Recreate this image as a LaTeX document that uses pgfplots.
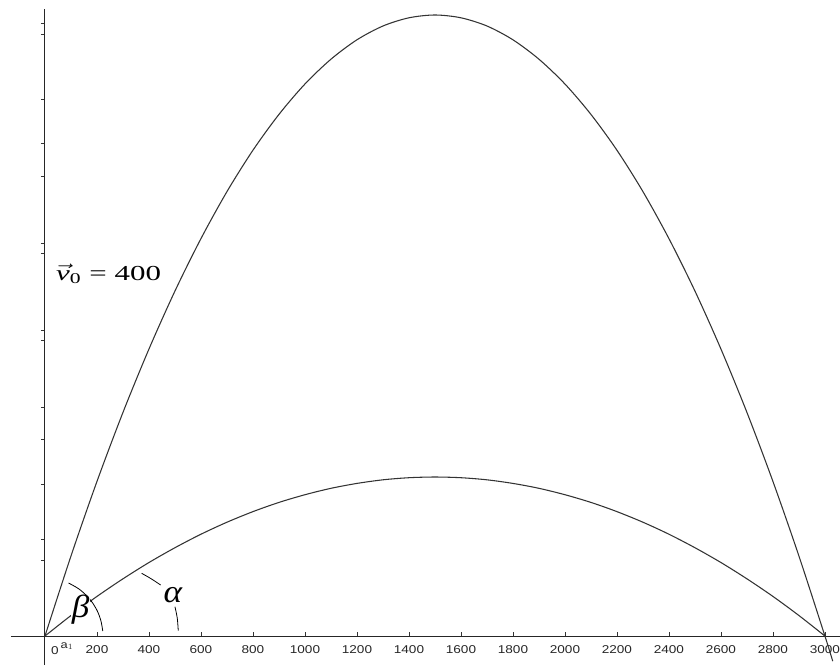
\documentclass[border=0pt]{standalone}
\usepackage{fontspec}
\setmainfont{Liberation Serif}
\setsansfont{Liberation Sans}
\newfontfamily\tickfont{Liberation Sans}[FakeStretch=1.2]
\usepackage{pgfplots}
\pgfplotsset{compat=1.18}
\begin{document}
\begin{tikzpicture}
\begin{axis}[
  scale only axis,
  width=621.75pt, height=492pt,
  xmin=-130.8, xmax=3058, ymin=-29, ymax=627,
  axis lines=middle,
  axis line style={-, line width=0.75pt, black!85},
  xtick={200,400,...,3000},
  ytick={76,97,152,197,229,296,306,383,393,460,493,537,602,613},
  yticklabels={},
  tick align=inside,
  major tick length=3pt,
  tick style={line width=0.6pt, black!80},
  y tick style={xshift=-3pt},
  hide obscured x ticks=false,
  /pgf/number format/assume math mode=true,
  /pgf/number format/1000 sep={},
  ticklabel style={font=\tickfont\fontsize{8.5}{10}\selectfont, text=black!85},
  xticklabel style={yshift=-4pt},
  clip=false,
]
\addplot[smooth, line width=0.8pt, black!80] coordinates {
(0,0) (100,80.0) (200,154.6) (300,223.6) (400,287.0) (500,345.0) (600,397.4)
(700,444.4) (800,485.8) (900,521.6) (1000,552.0) (1100,576.8) (1200,596.2)
(1300,610.0) (1400,618.2) (1500,621.0) (1600,618.2) (1700,610.0) (1800,596.2)
(1900,576.8) (2000,552.0) (2100,521.6) (2200,485.8) (2300,444.4) (2400,397.4)
(2500,345.0) (2600,287.0) (2700,223.6) (2800,154.6) (2900,80.0) (3000,0) (3030,-25.1)};
\addplot[smooth, line width=0.8pt, black!80] coordinates {
(0,0) (100,20.5) (200,39.6) (300,57.2) (400,73.5) (500,88.3) (600,101.8)
(700,113.8) (800,124.4) (900,133.6) (1000,141.3) (1100,147.7) (1200,152.6)
(1300,156.2) (1400,158.3) (1500,159.0) (1600,158.3) (1700,156.2) (1800,152.6)
(1900,147.7) (2000,141.3) (2100,133.6) (2200,124.4) (2300,113.8) (2400,101.8)
(2500,88.3) (2600,73.5) (2700,57.2) (2800,39.6) (2900,20.5) (3000,0)};
% beta arc
\addplot[smooth, line width=0.6pt, black] coordinates {
(90.8,53.0) (128.1,47.5) (157.7,41.0) (182.7,33.3) (202.3,24.5) (215.4,15.0) (222.3,5.0)};
% alpha arc pieces
\addplot[smooth, line width=0.6pt, black] coordinates {(371.9,62.7) (406.9,57.5) (445,51)};
\addplot[smooth, line width=0.6pt, black] coordinates {(500,29.3) (508.8,18) (512.7,5.3)};
\node[fill=white, inner sep=0.5pt, font=\fontsize{24}{26}\selectfont\itshape] at (axis cs:137,26) {\scalebox{1.1}[1]{β}};
\node[inner sep=0pt, font=\fontsize{24}{26}\selectfont\itshape] at (axis cs:492,41) {\scalebox{1.1}[1]{α}};
\node[anchor=base west, inner sep=0pt, font=\fontsize{16}{18}\selectfont] at (axis cs:42.3,356) {\scalebox{1.45}[1]{$\vec{\mathit{v}}_{\mathrm{0}}$ = 400}};
\node[inner sep=0pt, font=\tickfont\fontsize{8.5}{10}\selectfont, text=black!85] at (axis cs:38.5,-15) {0};
\node[inner sep=0pt, font=\tickfont\fontsize{8}{9}\selectfont, text=black!85] at (axis cs:85,-10) {a$_{1}$};
\coordinate (bbsw) at (axis cs:-173,-29);
\coordinate (bbne) at (axis cs:3058,636);
\end{axis}
\pgfresetboundingbox
\path[use as bounding box] (bbsw) rectangle (bbne);
\end{tikzpicture}
\end{document}
